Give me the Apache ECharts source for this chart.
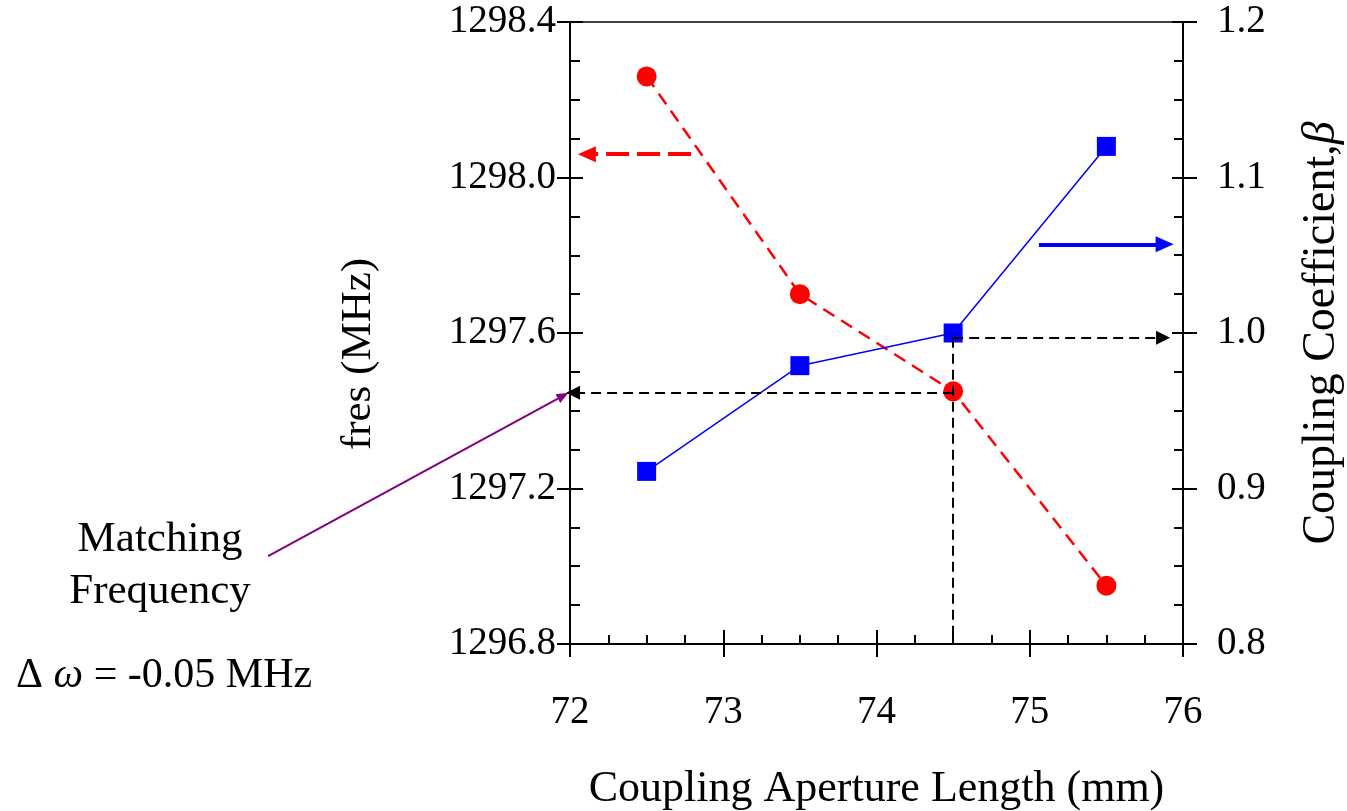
<!DOCTYPE html>
<html><head><meta charset="utf-8">
<script src="https://cdn.jsdelivr.net/npm/echarts@6/dist/echarts.min.js"></script>
<style>html,body{margin:0;padding:0;background:#fff}#c{width:1347px;height:811px}</style>
</head><body><div id="c"></div>
<script>
// ---- data ----
const apertureLength = [72.5, 73.5, 74.5, 75.5];
const fresMHz = [1298.26, 1297.70, 1297.45, 1296.95];
const couplingBeta = [0.911, 0.979, 1.0, 1.12];
const xTickLabels = [72, 73, 74, 75, 76];
const leftTickLabels = ['1296.8', '1297.2', '1297.6', '1298.0', '1298.4'];
const rightTickLabels = ['0.8', '0.9', '1.0', '1.1', '1.2'];
// annotation guides (data coordinates)
const matchX = 74.5;
const matchFreq = 1297.446;
const matchBeta = 0.997;
const betaGuideEndX = 75.87;
const freqGuideEndX = 72.02;
const redArrowY = 1298.06, redArrowX = [72.79, 72.11];
const blueArrowY = 1.057, blueArrowX = [75.06, 75.88];
const purpleFrom = [70.03, 1297.026], purpleTo = [71.99, 1297.446];

const FONT = "'Liberation Serif', 'Times New Roman', serif";
const chart = echarts.init(document.getElementById('c'), null, {renderer: 'canvas'});

const xMin = xTickLabels[0], xMax = xTickLabels[xTickLabels.length - 1];
const lMin = +leftTickLabels[0], lMax = +leftTickLabels[leftTickLabels.length - 1];
const rMin = +rightTickLabels[0], rMax = +rightTickLabels[rightTickLabels.length - 1];

const labelStyle = {color: '#000', fontFamily: FONT, fontSize: 39};
const lineStyleAxis = {color: '#000', width: 2};

const option = {
  animation: false,
  backgroundColor: '#fff',
  grid: {left: 570, right: 164, top: 22, bottom: 167, outerBoundsMode: 'none', containLabel: false,
         show: true, borderColor: '#000', borderWidth: 1.5, backgroundColor: 'transparent'},
  xAxis: [
    {type: 'value', position: 'bottom', min: xMin, max: xMax, interval: 1,
     axisLine: {show: true, lineStyle: lineStyleAxis},
     axisTick: {show: true, inside: false, length: 13, lineStyle: {color: '#000', width: 2}},
     axisLabel: Object.assign({margin: 49, formatter: v => String(v)}, labelStyle),
     splitLine: {show: false},
     name: 'Coupling Aperture Length (mm)', nameLocation: 'middle', nameGap: 123,
     nameTextStyle: {color: '#000', fontFamily: FONT, fontSize: 44}},
    {type: 'value', position: 'bottom', min: xMin, max: xMax, interval: 1,
     axisLine: {show: false},
     axisTick: {show: true, inside: true, length: 14, lineStyle: {color: '#000', width: 2}},
     minorTick: {show: true, splitNumber: 4, length: 9, lineStyle: {color: '#000', width: 2}},
     axisLabel: {show: false}, splitLine: {show: false}}
  ],
  yAxis: [
    {type: 'value', position: 'left', min: lMin, max: lMax, interval: 0.4,
     axisLine: {show: true, lineStyle: lineStyleAxis},
     axisTick: {show: true, inside: false, length: 13, lineStyle: {color: '#000', width: 2}},
     axisLabel: Object.assign({margin: 14, formatter: v => v.toFixed(1)}, labelStyle),
     splitLine: {show: false},
     name: 'fres (MHz)', nameLocation: 'middle', nameGap: 190, nameRotate: 90,
     nameTextStyle: {color: '#000', fontFamily: FONT, fontSize: 43, padding: [0, 42, 0, 0]}},
    {type: 'value', position: 'left', min: lMin, max: lMax, interval: 0.4,
     axisLine: {show: false},
     axisTick: {show: true, inside: true, length: 13, lineStyle: {color: '#000', width: 2}},
     minorTick: {show: true, splitNumber: 4, length: 10, lineStyle: {color: '#000', width: 2}},
     axisLabel: {show: false}, splitLine: {show: false}},
    {type: 'value', position: 'right', min: rMin, max: rMax, interval: 0.1,
     axisLine: {show: true, lineStyle: lineStyleAxis},
     axisTick: {show: true, inside: false, length: 14, lineStyle: {color: '#000', width: 2}},
     axisLabel: Object.assign({margin: 34, formatter: v => v.toFixed(1)}, labelStyle),
     splitLine: {show: false},
     name: '{a|Coupling Coefficient,}{b|β}', nameLocation: 'middle', nameGap: 116, nameRotate: 90,
     nameTextStyle: {color: '#000', fontFamily: FONT, fontSize: 46,
       rich: {a: {fontFamily: FONT, fontSize: 46, color: '#000'},
              b: {fontFamily: FONT, fontSize: 46, color: '#000', fontStyle: 'italic'}}}},
    {type: 'value', position: 'right', min: rMin, max: rMax, interval: 0.1,
     axisLine: {show: false},
     axisTick: {show: true, inside: true, length: 11, lineStyle: {color: '#000', width: 2}},
     minorTick: {show: true, splitNumber: 4, length: 9, lineStyle: {color: '#000', width: 2}},
     axisLabel: {show: false}, splitLine: {show: false}}
  ],
  series: [
    {type: 'line', name: 'fres', xAxisIndex: 0, yAxisIndex: 0,
     data: apertureLength.map((x, i) => [x, fresMHz[i]]),
     symbol: 'circle', symbolSize: 20,
     itemStyle: {color: '#ff0000'},
     lineStyle: {color: '#ff0000', width: 2.5, type: [13, 8]},
     z: 3,
     markLine: {silent: true, animation: false, label: {show: false}, emphasis: {disabled: true},
       data: [
         [{coord: [matchX, matchFreq], symbol: 'none'},
          {coord: [freqGuideEndX, matchFreq], symbol: 'triangle', symbolSize: [14, 14], symbolRotate: 90}],
         [{coord: [redArrowX[0], redArrowY], symbol: 'none',
           lineStyle: {color: '#ff0000', width: 4, type: [23, 8]}},
          {coord: [redArrowX[1], redArrowY], symbol: 'triangle', symbolSize: [16, 18], symbolRotate: 90,
           lineStyle: {color: '#ff0000', width: 4, type: [23, 8]}}]
       ],
       lineStyle: {color: '#000', width: 2, type: [10, 6]},
       itemStyle: {color: '#000'}}},
    {type: 'line', name: 'beta', xAxisIndex: 0, yAxisIndex: 2,
     data: apertureLength.map((x, i) => [x, couplingBeta[i]]),
     symbol: 'rect', symbolSize: 19,
     itemStyle: {color: '#0000ff'},
     lineStyle: {color: '#0000ff', width: 1.5},
     z: 4,
     markLine: {silent: true, animation: false, label: {show: false}, emphasis: {disabled: true},
       data: [
         [{coord: [matchX, matchBeta], symbol: 'none'},
          {coord: [matchX, rMin], symbol: 'none'}],
         [{coord: [matchX, matchBeta], symbol: 'none'},
          {coord: [betaGuideEndX, matchBeta], symbol: 'triangle', symbolSize: [14, 14], symbolRotate: -90}],
         [{coord: [blueArrowX[0], blueArrowY], symbol: 'none',
           lineStyle: {color: '#0000ff', width: 4, type: 'solid'}},
          {coord: [blueArrowX[1], blueArrowY], symbol: 'triangle', symbolSize: [16, 18], symbolRotate: -90,
           lineStyle: {color: '#0000ff', width: 4, type: 'solid'}, itemStyle: {color: '#0000ff'}}]
       ],
       lineStyle: {color: '#000', width: 2, type: [10, 6]},
       itemStyle: {color: '#000'}}}
  ]
};
chart.setOption(option);

// free annotations (text + purple pointer)
const p0 = chart.convertToPixel({xAxisIndex: 0, yAxisIndex: 0}, purpleFrom);
const p1 = chart.convertToPixel({xAxisIndex: 0, yAxisIndex: 0}, purpleTo);
const ang = Math.atan2(p1[1] - p0[1], p1[0] - p0[0]);
const hl = 12, hw = 5;
const bx = p1[0] - hl * Math.cos(ang), by = p1[1] - hl * Math.sin(ang);
const head = [
  [p1[0], p1[1]],
  [bx + hw * Math.sin(ang), by - hw * Math.cos(ang)],
  [bx - hw * Math.sin(ang), by + hw * Math.cos(ang)]
];
chart.setOption({
  graphic: [
    {type: 'line', shape: {x1: p0[0], y1: p0[1], x2: bx, y2: by}, style: {stroke: '#800080', lineWidth: 2}, silent: true},
    {type: 'polygon', shape: {points: head}, style: {fill: '#800080'}, silent: true},
    {type: 'text', x: 160, y: 540, style: {text: 'Matching', font: '43px ' + FONT, fill: '#000', textAlign: 'center', textVerticalAlign: 'middle'}},
    {type: 'text', x: 160, y: 592, style: {text: 'Frequency', font: '43px ' + FONT, fill: '#000', textAlign: 'center', textVerticalAlign: 'middle'}},
    {type: 'text', x: 16, y: 676, style: {text: '{d|Δ }{w|ω}{d| = -0.05 MHz}', textAlign: 'left', textVerticalAlign: 'middle',
      rich: {d: {fontFamily: FONT, fontSize: 42, fill: '#000', color: '#000'},
             w: {fontFamily: FONT, fontSize: 42, fill: '#000', color: '#000', fontStyle: 'italic'}}}}
  ]
});
</script></body></html>
